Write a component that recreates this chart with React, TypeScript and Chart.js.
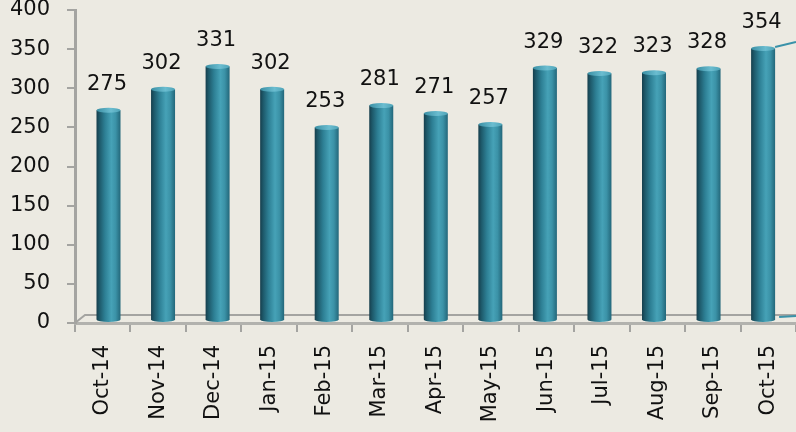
import React, { useEffect, useRef } from "react";
import { Chart, registerables } from "chart.js";

Chart.register(...registerables);

const categories = [
  "Oct-14", "Nov-14", "Dec-14", "Jan-15", "Feb-15", "Mar-15", "Apr-15",
  "May-15", "Jun-15", "Jul-15", "Aug-15", "Sep-15", "Oct-15",
];
const values = [275, 302, 331, 302, 253, 281, 271, 257, 329, 322, 323, 328, 354];
const yTickValues = [0, 50, 100, 150, 200, 250, 300, 350, 400];

const BG = "#ECEAE2";
const FONT = "'DejaVu Sans', sans-serif";
const AXIS = "#a4a4a1";

const cylinderPlugin = {
  id: "cylinders",
  beforeDatasetsDraw(chart: any) {
    const { ctx, chartArea } = chart;
    ctx.save();
    ctx.strokeStyle = AXIS;
    ctx.lineWidth = 2;
    ctx.beginPath();
    ctx.moveTo(chartArea.left, chartArea.bottom);
    ctx.lineTo(chartArea.left + 10, chartArea.bottom - 8);
    ctx.lineTo(chartArea.right, chartArea.bottom - 8);
    ctx.stroke();
    ctx.restore();
  },
  afterDatasetsDraw(chart: any) {
    const { ctx, chartArea } = chart;
    const meta = chart.getDatasetMeta(0);
    const ds = chart.data.datasets[0];
    ctx.save();
    meta.data.forEach((bar: any, i: number) => {
      const { x, y, base, width } = bar.getProps(["x", "y", "base", "width"], true);
      const l = x - width / 2;
      const r = x + width / 2;
      const capH = 5;
      const g = ctx.createLinearGradient(l, 0, r, 0);
      g.addColorStop(0, "#163e4c");
      g.addColorStop(0.12, "#1d5869");
      g.addColorStop(0.35, "#2d7f94");
      g.addColorStop(0.62, "#46a2b7");
      g.addColorStop(0.8, "#3b92a7");
      g.addColorStop(1, "#23677a");
      ctx.fillStyle = g;
      ctx.beginPath();
      ctx.moveTo(l, y + capH / 2);
      ctx.lineTo(l, base - capH / 2);
      ctx.ellipse(x, base - capH / 2, width / 2, capH / 2, 0, Math.PI, 0, true);
      ctx.lineTo(r, y + capH / 2);
      ctx.closePath();
      ctx.fill();
      const cg = ctx.createLinearGradient(l, 0, r, 0);
      cg.addColorStop(0, "#3a8fa4");
      cg.addColorStop(0.6, "#6bbdd0");
      cg.addColorStop(1, "#4ea3b7");
      ctx.fillStyle = cg;
      ctx.beginPath();
      ctx.ellipse(x, y + capH / 2, width / 2, capH / 2, 0, 0, Math.PI * 2);
      ctx.fill();

      const v = (ds.data[i] as any).y;
      ctx.fillStyle = "#111111";
      ctx.font = `21px ${FONT}`;
      ctx.textAlign = "center";
      ctx.textBaseline = "alphabetic";
      ctx.fillText(String(v), x - 1.5, y - 18);
    });
    // partial teal connector lines at the right edge (cropped in the original)
    const last = meta.data[meta.data.length - 1];
    if (last) {
      const { x, y, base, width } = last.getProps(["x", "y", "base", "width"], true);
      ctx.strokeStyle = "#3a92a9";
      ctx.lineWidth = 2;
      ctx.beginPath();
      ctx.moveTo(x + width / 2, y + 1);
      ctx.lineTo(chartArea.right, y - 4);
      ctx.stroke();
      ctx.beginPath();
      ctx.moveTo(x + width / 2 + 4, base - 5);
      ctx.lineTo(chartArea.right, base - 6);
      ctx.stroke();
    }
    ctx.restore();
  },
};

export default function App() {
  const ref = useRef<HTMLCanvasElement>(null);
  useEffect(() => {
    if (!ref.current) return;
    const chart = new Chart(ref.current, {
      type: "bar",
      data: {
        labels: categories,
        datasets: [
          {
            data: values.map((v, i) => ({ x: i, y: v })) as any,
            xAxisID: "xb",
            yAxisID: "y",
            backgroundColor: "rgba(0,0,0,0)",
            borderWidth: 0,
            barPercentage: 0.44,
            categoryPercentage: 1,
          },
        ],
      },
      options: {
        responsive: false,
        animation: false,
        devicePixelRatio: 1,
        layout: { padding: { top: 0, right: 0, bottom: 0, left: 0 } },
        plugins: { legend: { display: false }, tooltip: { enabled: false } },
        scales: {
          x: {
            type: "category",
            labels: categories,
            offset: true,
            grid: { offset: true, drawOnChartArea: false, tickLength: 9, color: AXIS, lineWidth: 2 },
            border: { color: "#b2b2ae", width: 3 },
            ticks: {
              minRotation: 90,
              maxRotation: 90,
              autoSkip: false,
              padding: 13,
              color: "#111111",
              font: { family: FONT, size: 21 },
            },
            afterFit: (s: any) => {
              s.height = 109;
              s.paddingLeft = 0;
              s.paddingRight = 0;
            },
          },
          xb: {
            type: "linear",
            display: false,
            offset: false,
            grid: { offset: false },
            min: -0.614,
            max: 12.603,
          },
          y: {
            min: 0,
            max: 400,
            afterBuildTicks: (s: any) => {
              s.ticks = yTickValues.map((v) => ({ value: v }));
            },
            grid: { drawOnChartArea: false, tickLength: 8, color: AXIS, lineWidth: 2 },
            border: { color: AXIS, width: 3 },
            ticks: {
              padding: 17,
              color: "#111111",
              font: { family: FONT, size: 21, lineHeight: 0.95 },
            },
            afterFit: (s: any) => {
              s.width = 75;
              s.paddingTop = 10;
              s.paddingBottom = 0;
            },
          },
        },
      },
      plugins: [cylinderPlugin],
    });
    return () => chart.destroy();
  }, []);
  return (
    <div style={{ position: "fixed", left: 0, top: 0, width: 796, height: 432, background: BG }}>
      <canvas ref={ref} width={796} height={432} style={{ display: "block", width: 796, height: 432 }} />
    </div>
  );
}
